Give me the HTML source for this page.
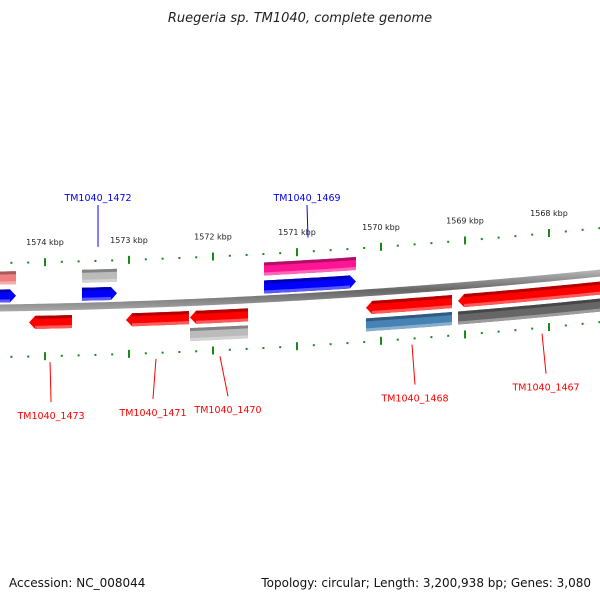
<!DOCTYPE html>
<html><head><meta charset="utf-8">
<style>
html,body{margin:0;padding:0;background:#fff;}
svg{display:block;font-family:"DejaVu Sans","Liberation Sans",sans-serif;}
</style></head>
<body>
<svg id="chart" width="600" height="600" viewBox="0 0 600 600">
<defs>
<linearGradient id="bb" x1="0" y1="0" x2="0" y2="1"><stop offset="0" stop-color="#bbb"/><stop offset="0.5" stop-color="#666"/><stop offset="1" stop-color="#aaa"/></linearGradient>
</defs>
<text x="300" y="22" text-anchor="middle" font-size="13" font-style="italic" fill="#222">Ruegeria sp. TM1040, complete genome</text>
<text x="9" y="587" font-size="12" fill="#111">Accession: NC_008044</text>
<text x="591" y="587" text-anchor="end" font-size="12" fill="#111">Topology: circular; Length: 3,200,938 bp; Genes: 3,080</text>
<g id="g"></g>
</svg>
<script>
// data
const tickKbp = [1574, 1573, 1572, 1571, 1570, 1569, 1568];
const featStart = [1574536, 1573560, 1571393, 1574536, 1573560, 1571393, 1574190, 1573036, 1572274, 1570179, 1569083, 1572274, 1570179, 1569083];
const featEnd   = [1574345, 1573143, 1570298, 1574345, 1573143, 1570298, 1573679, 1572286, 1571583, 1569155, 1567393, 1571583, 1569155, 1567393];
const featTrack = [-30, -30, -30, -12, -12, -12, 15, 15, 15, 15, 15, 32, 32, 32];
const featColor = ["#f08080","#bbbbbb","#ff1493","#0000ff","#0000ff","#0000ff","#ff0000","#ff0000","#ff0000","#ff0000","#ff0000","#bbbbbb","#4682b4","#666666"];
const featArrow = [0,0,0,1,1,1,-1,-1,-1,-1,-1,0,0,0];
const labelText = ["TM1040_1472","TM1040_1469","TM1040_1473","TM1040_1471","TM1040_1470","TM1040_1468","TM1040_1467"];
const labelBp   = [1573369, 1570869, 1573940, 1572679, 1571917, 1569631, 1568083];
const labelSide = [-1, -1, 1, 1, 1, 1, 1];
const labelShift= [0, -1, 1, -3, 8, 3, 4];
const labelColor= ["#0000ff","#0000ff","#ff0000","#ff0000","#ff0000","#ff0000","#ff0000"];

const NS="http://www.w3.org/2000/svg";
const g=document.getElementById('g');
function xOf(bp){return 45+(1574000-bp)*0.084;}
function yOf(x,off){return 308-0.015*x-0.000072*x*x+(off||0);}
function el(t,a){const e=document.createElementNS(NS,t);for(const k in a)e.setAttribute(k,a[k]);g.appendChild(e);return e;}
function shade(hex,f){let n=parseInt(hex.slice(1),16);let r=n>>16,gg=(n>>8)&255,b=n&255;
 const c=v=>Math.max(0,Math.min(255,Math.round(f<1?v*f:v+(255-v)*(f-1))));return `rgb(${c(r)},${c(gg)},${c(b)})`;}
function band(x1,x2,o1,o2){let p=[];for(let x=x1;x<=x2;x+=4)p.push([x,yOf(x,o1)]);p.push([x2,yOf(x2,o1)]);
 let q=[];for(let x=x2;x>=x1;x-=4)q.push([x,yOf(x,o2)]);q.push([x1,yOf(x1,o2)]);return p.concat(q);}
// backbone
{let pts=band(-5,605,-3.5,3.5);const e=el('polygon',{points:pts.map(p=>p.join(',')).join(' '),fill:'url(#bb)'});

}
// ticks
for(const side of [-45,49]){
 for(let bp=1575000;bp>=1567000;bp-=200){
  const x=xOf(bp); if(x<0||x>600)continue; const y=yOf(x,side);
  const major=bp%1000===0;
  const e=el('rect',{x:x-1,y:major?y-4:y-1,width:2,height:major?8:2,fill:'#1a8a1a'});
  
  
 }
}
tickKbp.forEach(k=>{const x=xOf(k*1000);const t=el('text',{x:x,y:yOf(x,-62),'text-anchor':'middle','font-size':'8',fill:'#222'});
 t.textContent=k+' kbp';
 
 });
// features
featStart.forEach((s,i)=>{
 const x1=Math.max(-2,xOf(s)),x2=Math.min(602,xOf(featEnd[i]));const o=featTrack[i];const h=6.5;
 let pts=band(x1,x2,o-h,o+h);
 if(featArrow[i]===1){pts=band(x1,x2-6,o-h,o+h);const tip=[x2,yOf(x2,o)];pts.splice(pts.length/2,0,tip);}
 if(featArrow[i]===-1){pts=band(x1+6,x2,o-h,o+h);pts.push([x1,yOf(x1,o)]);}
 const c=featColor[i];
 const e=el('polygon',{points:pts.map(p=>p.join(',')).join(' '),fill:c});
 
 
 const top=band(x1+(featArrow[i]===-1?6:0),x2-(featArrow[i]===1?6:0),o-h,o-h+3);
 const s1=el('polygon',{points:top.map(p=>p.join(',')).join(' '),fill:shade(c,0.7)});
 
 
 const bot=band(x1+(featArrow[i]===-1?6:0),x2-(featArrow[i]===1?6:0),o+h-3,o+h);
 const s2=el('polygon',{points:bot.map(p=>p.join(',')).join(' '),fill:shade(c,1.35)});
 
 
});
// labels
labelText.forEach((t,i)=>{
 const x=xOf(labelBp[i]);const y=yOf(x,0);const sd=labelSide[i];
 const ya=sd<0?y-59:y+55, yb=sd<0?205:ya+40, lx=x+labelShift[i];
 const ln=el('line',{x1:x,y1:ya,x2:lx,y2:yb,stroke:labelColor[i],'stroke-width':1});
 
 
 const tx=el('text',{x:lx,y:sd<0?yb-4:yb+17,'text-anchor':'middle','font-size':'9.5',fill:labelColor[i]});
 tx.textContent=t;
 
 
});
</script>
</body></html>
